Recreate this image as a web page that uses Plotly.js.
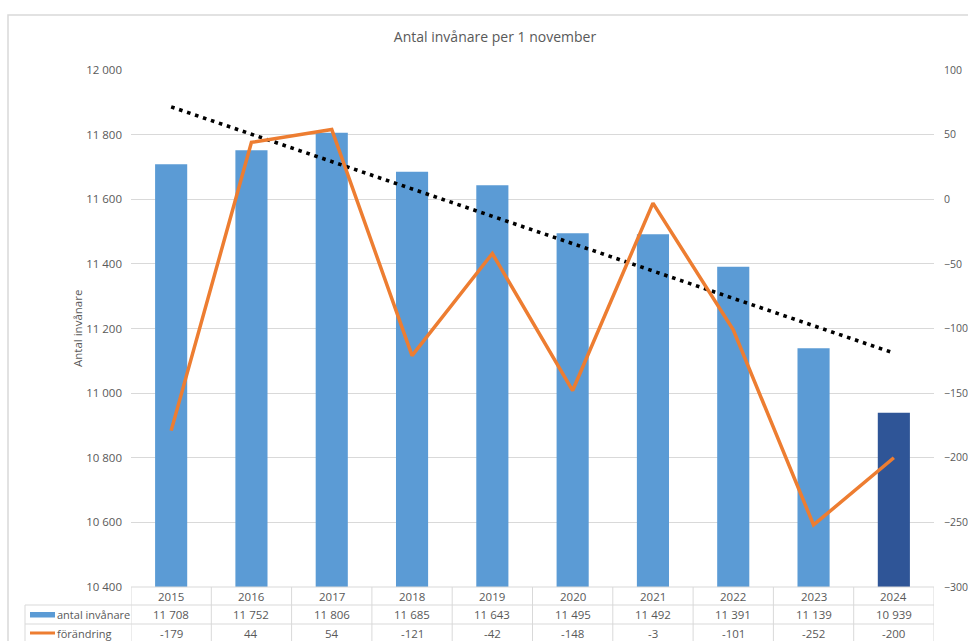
<!DOCTYPE html>
<html>
<head>
<meta charset="utf-8">
<script src="https://cdn.plot.ly/plotly-3.0.1.min.js"></script>
<style>html,body{margin:0;padding:0;background:#fff;}#chart{width:968px;height:641px;}</style>
</head>
<body>
<div id="chart"></div>
<script>
const years = ['2015','2016','2017','2018','2019','2020','2021','2022','2023','2024'];
const population = [11708, 11752, 11806, 11685, 11643, 11495, 11492, 11391, 11139, 10939];
const change = [-179, 44, 54, -121, -42, -148, -3, -101, -252, -200];
const trendYears = ['2015', '2024'];
const trendValues = [11886, 11124];
const barColors = ['#5b9bd5','#5b9bd5','#5b9bd5','#5b9bd5','#5b9bd5','#5b9bd5','#5b9bd5','#5b9bd5','#5b9bd5','#2f5597'];

const FONT = 'Open Sans, Noto Sans, sans-serif';
const GREY = '#595959';
const LINE = '#d9d9d9';

const L = 131, R = 934, T = 70, B = 587;
const PW = R - L, PH = B - T;
const px = x => (x - L) / PW;
const py = y => (B - y) / PH;

function fmt(v) {
  const s = Math.abs(v).toString();
  const out = s.length > 3 ? s.slice(0, s.length - 3) + ' ' + s.slice(-3) : s;
  return (v < 0 ? '-' : '') + out;
}

const traces = [
  {type: 'bar', x: years, y: population, name: 'antal invånare',
   marker: {color: barColors}, width: 0.4, yaxis: 'y', hoverinfo: 'skip'},
  {type: 'scatter', mode: 'lines', x: trendYears, y: trendValues, yaxis: 'y',
   line: {color: '#000000', width: 3.6, dash: '3.6px,4.8px'}, hoverinfo: 'skip'},
  {type: 'scatter', mode: 'lines', x: years, y: change, name: 'förändring', yaxis: 'y2',
   line: {color: '#ed7d31', width: 3.5}, hoverinfo: 'skip'}
];

const shapes = [];
const annotations = [];
const rowLines = [587, 605, 624, 643];
rowLines.forEach((y, i) => {
  shapes.push({type: 'line', xref: 'paper', yref: 'paper',
    x0: i === 0 ? px(L) : px(25), x1: px(R), y0: py(y), y1: py(y),
    line: {color: LINE, width: 1}});
});
for (let k = 0; k <= years.length; k++) {
  shapes.push({type: 'line', xref: 'x', yref: 'paper', x0: k - 0.5, x1: k - 0.5,
    y0: py(587), y1: py(660), line: {color: LINE, width: 1}});
}
shapes.push({type: 'line', xref: 'paper', yref: 'paper', x0: px(25), x1: px(25),
  y0: py(605), y1: py(660), line: {color: LINE, width: 1}});
shapes.push({type: 'rect', xref: 'paper', yref: 'paper', x0: px(8), x1: px(1000),
  y0: py(15), y1: py(700), line: {color: LINE, width: 1.5}, fillcolor: 'rgba(0,0,0,0)', layer: 'below'});
shapes.push({type: 'rect', xref: 'paper', yref: 'paper', x0: px(30), x1: px(55),
  y0: py(612), y1: py(617.5), line: {width: 0}, fillcolor: '#5b9bd5'});
shapes.push({type: 'line', xref: 'paper', yref: 'paper', x0: px(30), x1: px(55),
  y0: py(633), y1: py(633), line: {color: '#ed7d31', width: 3}});

const rowY = [py(596), py(614.5), py(633)];
years.forEach((yr, i) => {
  const cells = [yr, fmt(population[i]), fmt(change[i])];
  cells.forEach((t, r) => {
    annotations.push({xref: 'x', yref: 'paper', x: i, y: rowY[r], text: t, showarrow: false,
      font: {family: FONT, size: 11.5, color: GREY}, xanchor: 'center', yanchor: 'middle'});
  });
});
annotations.push({xref: 'paper', yref: 'paper', x: px(55), y: rowY[1], xanchor: 'left', yanchor: 'middle',
  text: 'antal invånare', showarrow: false, font: {family: FONT, size: 11, color: GREY}});
annotations.push({xref: 'paper', yref: 'paper', x: px(55), y: rowY[2], xanchor: 'left', yanchor: 'middle',
  text: 'förändring', showarrow: false, font: {family: FONT, size: 11, color: GREY}});
annotations.push({xref: 'paper', yref: 'paper', x: px(77), y: py(329), textangle: -90,
  text: 'Antal invånare', showarrow: false, font: {family: FONT, size: 11.5, color: GREY},
  xanchor: 'center', yanchor: 'middle'});

const layout = {
  width: 968, height: 641,
  margin: {l: L, r: 968 - R, t: T, b: 641 - B},
  paper_bgcolor: '#ffffff', plot_bgcolor: '#ffffff',
  separators: ', ',
  showlegend: false,
  title: {text: 'Antal invånare per 1 november', x: 495 / 968, xanchor: 'center',
    y: 1 - 37 / 641, yanchor: 'middle', yref: 'container',
    font: {family: FONT, size: 14, color: GREY}},
  xaxis: {type: 'category', range: [-0.5, 9.5], showticklabels: false, ticks: '',
    showgrid: false, zeroline: false, showline: false},
  yaxis: {range: [10400, 12000], dtick: 200, tickformat: ',d', showgrid: true, gridcolor: LINE,
    gridwidth: 1, zeroline: false, showline: false, ticks: '', ticklabelstandoff: 8,
    tickfont: {family: FONT, size: 11.5, color: GREY}},
  yaxis2: {range: [-300, 100], dtick: 50, overlaying: 'y', side: 'right', showgrid: false,
    zeroline: false, showline: false, ticks: '', ticklabelstandoff: 9,
    tickfont: {family: FONT, size: 10.5, color: GREY}},
  shapes: shapes,
  annotations: annotations
};

Plotly.newPlot('chart', traces, layout, {displayModeBar: false, staticPlot: true});
</script>
</body>
</html>
